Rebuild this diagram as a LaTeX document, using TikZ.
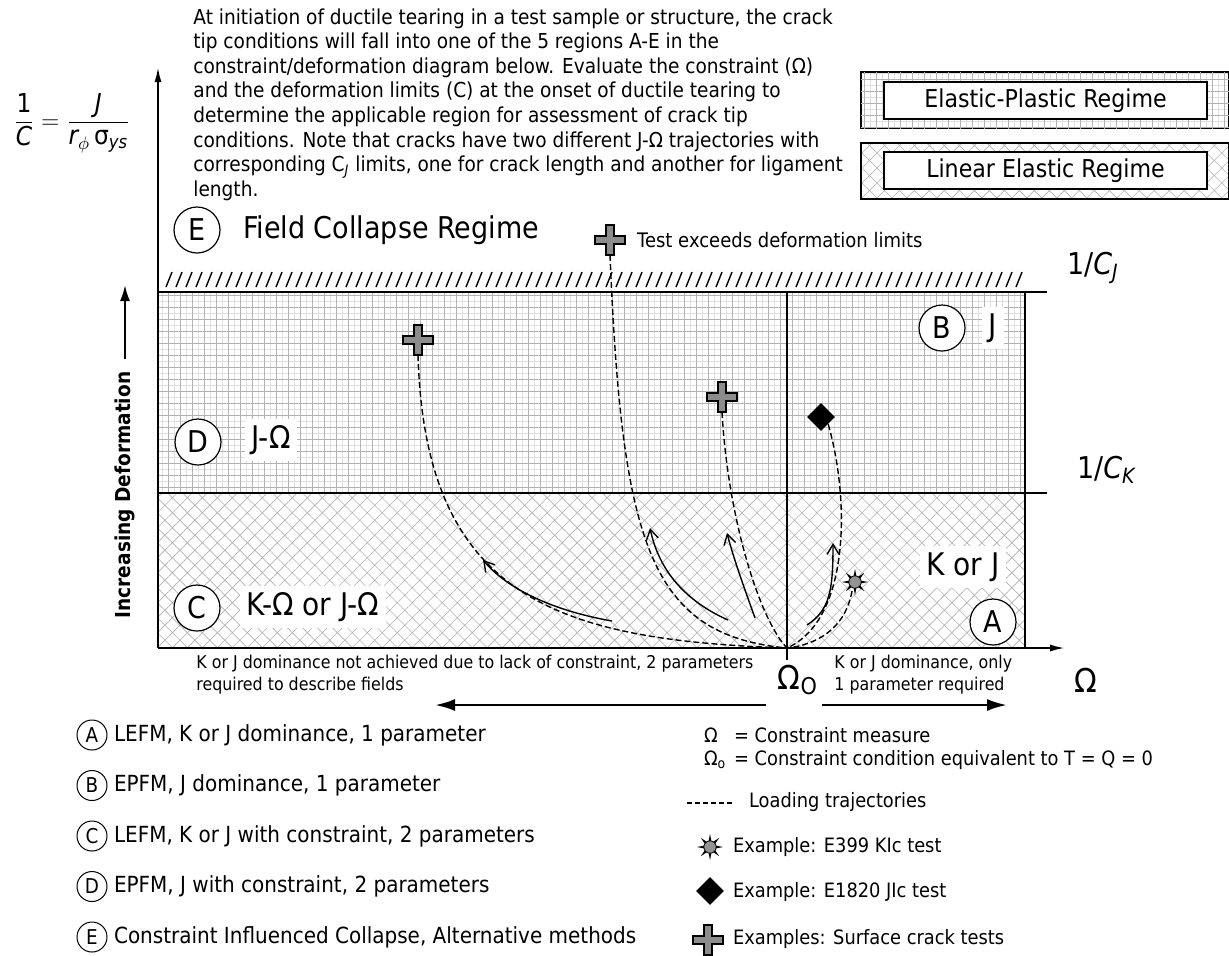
\documentclass[tikz,border=0pt]{standalone}
\usepackage{amsmath}
\usepackage{fontspec}
\setmainfont{DejaVu Sans}[FakeStretch=0.9]
\usepackage{tikz}
\usetikzlibrary{arrows.meta,patterns.meta,shapes.geometric}

\tikzset{
  lbl/.style={font=\fontsize{15.6}{18}\selectfont},
  ring/.style={draw,circle,line width=0.6pt,fill=white,inner sep=0pt,
    minimum size=23pt,font=\fontsize{15}{17}\selectfont},
  keyring/.style={draw,circle,line width=0.5pt,fill=white,inner sep=0pt,
    minimum size=15pt,font=\fontsize{10.2}{12}\selectfont},
  keytext/.style={anchor=west,font=\fontsize{11.1}{13}\selectfont},
  sidetext/.style={anchor=west,font=\fontsize{9.9}{12}\selectfont},
  traj/.style={line width=0.7pt,dash pattern=on 3pt off 1.5pt},
  load/.style={line width=0.7pt,-{Straight Barb[length=5pt,width=6pt]}},
  axis/.style={line width=1pt,-{Latex[length=7.5pt,width=3.5pt]}},
  bigarrow/.style={line width=1.3pt,-{Latex[length=10pt,width=6pt]}},
  gridfill/.style={pattern={Hatch[angle=0,distance=3pt,line width=0.25pt]},
    pattern color=gray!25,
    postaction={pattern={Hatch[angle=0,distance=6pt,line width=0.45pt]},pattern color=gray!60}},
  xfill/.style={pattern={Hatch[angle=45,distance=5.3pt,line width=0.3pt]},pattern color=gray!60},
  tri/.style={diamond,fill=black,minimum size=14pt,inner sep=0pt},
  plusmk/.pic={
    \draw[line width=0.7pt,fill=gray!90] (-4,-15)--++(8,0)--++(0,11)--++(11,0)
      --++(0,8)--++(-11,0)--++(0,11)--++(-8,0)--++(0,-11)--++(-11,0)--++(0,-8)
      --++(11,0)--cycle;
    \coordinate (-foot) at (0,15);},
  sunmk/.pic={
    \foreach \a in {0,45,...,315}
      \fill (\a:13) -- (\a+16:5.5) -- (\a-16:5.5) -- cycle;
    \draw[line width=0.4pt,fill=gray!85] (0,0) circle (3.1pt);
    \coordinate (-foot) at (-3,9);},
}

\begin{document}
\begin{tikzpicture}[x=0.5pt,y=-0.5pt]
\useasboundingbox (0,0) rectangle (1229,955);

% regimes
\path[gridfill] (158,292) rectangle (1025,493);
\path[xfill] (158,493) rectangle (1025,648);

\draw[gridfill,line width=0.6pt] (861,72) rectangle (1229,128);
\node[draw,fill=white,line width=0.9pt,minimum width=161.5pt,minimum height=17.5pt,
  font=\fontsize{12.3}{14}\selectfont] (ep) at (1045.5,100.5) {Elastic-Plastic Regime};
\draw[xfill,line width=0.6pt] (861,143) rectangle (1229,199);
\node[draw,fill=white,line width=0.9pt,minimum width=161.5pt,minimum height=17.5pt,
  font=\fontsize{12.3}{14}\selectfont] (le) at (1045.5,170.5) {Linear Elastic Regime};

% limits and axes
\foreach \x in {166,176,...,1016}
  \draw[line width=0.7pt] (\x,287)--++(6,-15);
\draw[line width=1pt] (158,292)--(1047,292);
\draw[line width=1pt] (158,493)--(1047,493);
\draw[line width=1pt] (1025,292)--(1025,648);
\draw[line width=1pt] (787,292)--(787,660);
\draw[axis] (158,648)--(1065,648);
\draw[axis] (158,648)--(158,67);

\node[font=\fontsize{13}{15}\selectfont] (frm) at (72,123)
  {$\displaystyle\frac{\textrm{1}}{\textit{C}}=\frac{\textit{J}}{\textit{r}_{\phi}\,\textrm{σ}_{\textit{ys}}}$};
\node[anchor=north west,inner sep=0pt,align=left,font=\fontsize{10.3}{12.3}\selectfont] (intro) at (193,8)
  {At initiation of ductile tearing in a test sample or structure, the crack\\
   tip conditions will fall into one of the 5 regions A-E in the\\
   constraint/deformation diagram below. Evaluate the constraint (Ω)\\
   and the deformation limits (C) at the onset of ductile tearing to\\
   determine the applicable region for assessment of crack tip\\
   conditions. Note that cracks have two different J-Ω trajectories with\\
   corresponding C$_{\textit{J}}$ limits, one for crack length and another for ligament\\
   length.};

\node[rotate=90,font=\bfseries\fontsize{10.3}{12}\selectfont] (incr) at (125,495) {Increasing Deformation};
\draw[line width=1pt,-{Latex[length=8pt,width=5pt]}] ([yshift=3pt]incr.east)--(125,285);

\node[font=\fontsize{15}{17}\selectfont,anchor=west] (cj) at (1060,268) {1/\textit{C}\textsubscript{\textit{J}}};
\node[font=\fontsize{15}{17}\selectfont,anchor=west] (ck) at (1070,470) {1/\textit{C}\textsubscript{\textit{K}}};

% regions
\node[ring] (E) at (197,230) {E};
\node[font=\fontsize{15}{17}\selectfont,anchor=west] (Et) at (236,230) {Field Collapse Regime};
\node[ring] (D) at (198,442) {D};
\node[lbl,fill=white] (Dt) at (271,440) {J-Ω};
\node[ring] (C) at (197,608) {C};
\node[lbl,fill=white] (Ct) at (313,607) {K-Ω or J-Ω};
\node[ring] (B) at (942,328) {B};
\node[lbl,fill=white] (Bt) at (993,328) {J};
\node[lbl,fill=white] (At) at (963,567) {K or J};
\node[ring] (A) at (993,622) {A};

% trajectories
\coordinate (O) at (787,648);
\pic (t1) at (418,340) {plusmk};
\pic (t2) at (610,240) {plusmk};
\pic (t3) at (722,397) {plusmk};
\node[tri] (dm) at (821,417) {};
\pic (kc) at (855,582) {sunmk};
\node[anchor=west,font=\fontsize{10}{12}\selectfont] (tx) at (630,240) {Test exceeds deformation limits};

\draw[traj] (t1-foot) .. controls (425,600) and (560,640) .. (O);
\draw[traj] (t2-foot) .. controls (622,545) and (650,635) .. (O);
\draw[traj] (t3-foot) .. controls (728,520) and (760,620) .. (O);
\draw[traj] (dm.south east) .. controls (850,500) and (850,620) .. (O);
\draw[traj] (kc-foot) .. controls (845,630) and (815,645) .. (O);

\draw[load] (612,621) .. controls (560,612) and (510,592) .. (483,560);
\draw[load] (728,620) .. controls (690,603) and (660,575) .. (650,528);
\draw[load] (755,618) .. controls (745,590) and (734,560) .. (727,533);
\draw[load] (807,625) .. controls (830,610) and (833,590) .. (833,543);

% below the axis
\node[font=\fontsize{16.5}{18}\selectfont] (om0) at (798,680) {Ω\textsubscript{O}};
\node[font=\fontsize{16.5}{18}\selectfont] (om) at (1086,680) {Ω};
\node[anchor=north west,inner sep=0pt,align=left,font=\fontsize{8.8}{11}\selectfont] (lnote) at (196,655)
  {K or J dominance not achieved due to lack of constraint, 2 parameters\\required to describe fields};
\node[anchor=north west,inner sep=0pt,align=left,font=\fontsize{8.8}{11}\selectfont] (rnote) at (834,655)
  {K or J dominance, only\\1 parameter required};
\coordinate (la) at (766,705);
\coordinate (lb) at (435,705);
\coordinate (ra) at (822,705);
\coordinate (rb) at (1007,705);
\draw[bigarrow] (la)--(lb);
\draw[bigarrow] (ra)--(rb);

% key, left
\node[keyring] (kA) at (92,735) {A};
\node[keytext] (ktA) at (107,735) {LEFM, K or J dominance, 1 parameter};
\node[keyring] (kB) at (92,785.5) {B};
\node[keytext] (ktB) at (107,785.5) {EPFM, J dominance, 1 parameter};
\node[keyring] (kC) at (92,836) {C};
\node[keytext] (ktC) at (107,836) {LEFM, K or J with constraint, 2 parameters};
\node[keyring] (kD) at (92,886.5) {D};
\node[keytext] (ktD) at (107,886.5) {EPFM, J with constraint, 2 parameters};
\node[keyring] (kE) at (92,937) {E};
\node[keytext] (ktE) at (107,937) {Constraint Influenced Collapse, Alternative methods};

% key, right
\node[sidetext] (s1) at (697,735) {Ω};
\node[sidetext] (s1t) at (727,735) {= Constraint measure};
\node[sidetext] (s2) at (697,760) {Ω\textsubscript{o}};
\node[sidetext] (s2t) at (727,760) {= Constraint condition equivalent to T = Q = 0};
\coordinate (da) at (687,803);
\coordinate (db) at (733,803);
\draw[line width=0.7pt,dash pattern=on 2.5pt off 1.5pt] (da)--(db);
\node[sidetext] (s3) at (742,802) {Loading trajectories};
\pic (kc2) at (710,847) {sunmk};
\node[sidetext] (s4) at (726,847) {Example: E399 KIc test};
\node[tri] (dm2) at (710,891) {};
\node[sidetext] (s5) at (726,892) {Example: E1820 JIc test};
\pic (t4) at (708,940) {plusmk};
\node[sidetext] (s6) at (726,939) {Examples: Surface crack tests};
\end{tikzpicture}
\end{document}
